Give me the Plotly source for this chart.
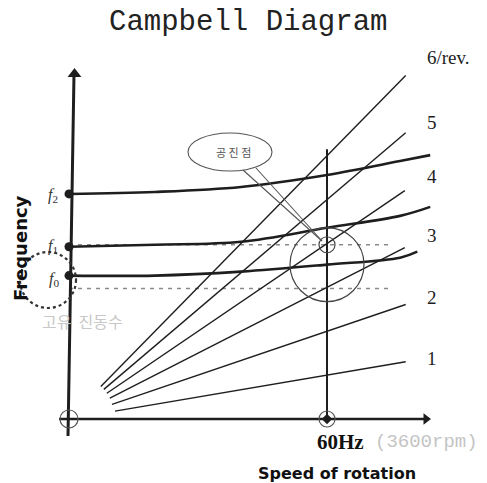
import plotly.graph_objects as go

# ---------------- data ----------------
orders = [1, 2, 3, 4, 5, 6]
order_labels = ["1", "2", "3", "4", "5", "6/rev."]
order_start_hz = [10.7, 10.0, 9.5, 8.8, 8.1, 7.4]
order_end_hz = [78.3, 78.3, 78.1, 78.1, 78.3, 78.3]

mode_speed = [0, 20, 40, 60, 77, 84]
f2_curve = [307.9, 310.6, 317.4, 333.8, 352.9, 361.0]
f1_curve = [235.7, 238.4, 242.5, 261.6, 277.9, 290.2]
f0_speed = [0, 20, 40, 60, 77, 81]
f0_curve = [196.2, 196.2, 201.6, 211.2, 220.7, 228.9]

dash_speed = [0, 75]
dash_hi = [238.4, 238.4]
dash_lo = [178.5, 178.5]

rated_speed = 60  # Hz (3600 rpm)
rated_top = 369

# ---------------- layout scale ----------------
W, H = 487, 483
X0PX, Y0PX = 69, 419
KX = (327 - X0PX) / 60.0
KY = 0.17 * KX


def pdata(xp, yp):
    return ((xp - X0PX) / KX, (Y0PX - yp) / KY)


INK = "#1e1e1e"
fig = go.Figure()

# dashed reference levels
for lev in (dash_hi, dash_lo):
    fig.add_trace(go.Scatter(x=dash_speed, y=lev, mode="lines",
                             line=dict(color="#8a8a8a", width=1.4, dash="4px,5px"),
                             hoverinfo="skip", showlegend=False))

# order lines
for n, s0, s1 in zip(orders, order_start_hz, order_end_hz):
    fig.add_trace(go.Scatter(x=[s0, s1], y=[n * s0, n * s1], mode="lines",
                             line=dict(color=INK, width=1.4),
                             hoverinfo="skip", showlegend=False))

# natural frequency curves
for xs, ys in ((mode_speed, f2_curve), (mode_speed, f1_curve), (f0_speed, f0_curve)):
    fig.add_trace(go.Scatter(x=xs, y=ys, mode="lines",
                             line=dict(color=INK, width=2.6, shape="spline"),
                             hoverinfo="skip", showlegend=False))

# 60 Hz vertical line
fig.add_trace(go.Scatter(x=[rated_speed, rated_speed], y=[0, rated_top], mode="lines",
                         line=dict(color=INK, width=2), hoverinfo="skip", showlegend=False))

# dots at the start of the curves
fig.add_trace(go.Scatter(x=[0, 0, 0], y=[f2_curve[0], f1_curve[0], f0_curve[0]],
                         mode="markers", marker=dict(color=INK, size=9),
                         hoverinfo="skip", showlegend=False))
fig.add_trace(go.Scatter(x=[rated_speed], y=[0], mode="markers",
                         marker=dict(color=INK, size=8, symbol="diamond"),
                         hoverinfo="skip", showlegend=False))

# axes (drawn)
ax_bot = pdata(68, 436)
ax_top = pdata(74, 74)
xa_l = pdata(59, 419)
xa_r = pdata(424, 419)
fig.add_trace(go.Scatter(x=[ax_bot[0], ax_top[0]], y=[ax_bot[1], ax_top[1]], mode="lines",
                         line=dict(color=INK, width=3), hoverinfo="skip", showlegend=False))
fig.add_trace(go.Scatter(x=[xa_l[0], xa_r[0]], y=[0, 0], mode="lines",
                         line=dict(color=INK, width=2.4), hoverinfo="skip", showlegend=False))
tip_up = pdata(74.5, 74)
tip_r = pdata(426, 419)
fig.add_trace(go.Scatter(x=[tip_up[0]], y=[tip_up[1]], mode="markers",
                         marker=dict(symbol="triangle-up", size=12, color=INK),
                         hoverinfo="skip", showlegend=False))
fig.add_trace(go.Scatter(x=[tip_r[0]], y=[0], mode="markers",
                         marker=dict(symbol="triangle-right", size=10, color=INK),
                         hoverinfo="skip", showlegend=False))

shapes = []


def pcircle(cx, cy, rx, ry, color, width, dash="solid"):
    shapes.append(dict(type="circle", xref="x", yref="y", xsizemode="pixel", ysizemode="pixel",
                       xanchor=cx, yanchor=cy, x0=-rx, x1=rx, y0=-ry, y1=ry,
                       line=dict(color=color, width=width, dash=dash)))


pcircle(0, 0, 9, 9, "#555", 1.2)
pcircle(rated_speed, 0, 8, 8, "#555", 1.2)
pcircle(rated_speed, f0_curve[3], 37, 37, "#444", 1.2)
pcircle(rated_speed, dash_hi[0], 8, 8, "#444", 1.2)
c = pdata(48, 280)
pcircle(c[0], c[1], 28, 28, "#333", 2.2, "dot")
e = pdata(230, 152)
pcircle(e[0], e[1], 42, 19, "#555", 1.1)
for a in ((243, 170), (256, 168)):
    p0 = pdata(*a)
    p1 = pdata(322, 241)
    shapes.append(dict(type="line", xref="x", yref="y", x0=p0[0], y0=p0[1], x1=p1[0], y1=p1[1],
                       line=dict(color="#555", width=1.1)))

ann = []


def text(xp, yp, s, size, family, color=INK, xanchor="center", angle=0):
    x, y = pdata(xp, yp)
    ann.append(dict(x=x, y=y, xref="x", yref="y", text=s, showarrow=False, xanchor=xanchor,
                    yanchor="middle", textangle=angle,
                    font=dict(size=size, family=family, color=color)))


text(248, 22, "Campbell Diagram", 29, "Courier New, Liberation Mono, monospace", "#222")
label_y = [358, 297, 235, 176, 122, 57]
for lab, ly in zip(order_labels, label_y):
    text(425, ly, lab, 19, "Liberation Serif, serif", INK, xanchor="left")
text(53, 195, "<i>f</i><sub>2</sub>", 16, "Liberation Serif, serif", "#333")
text(53, 246, "<i>f</i><sub>1</sub>", 16, "Liberation Serif, serif", "#333")
text(54, 279, "<i>f</i><sub>0</sub>", 16, "Liberation Serif, serif", "#333")
text(20, 248, "<b>Frequency</b>", 18, "DejaVu Sans, sans-serif", "#111", angle=-90)
text(337, 473, "<b>Speed of rotation</b>", 16, "DejaVu Sans, sans-serif", "#111")
text(315, 442, "<b>60Hz</b>", 21, "Liberation Serif, serif", "#111", xanchor="left")
text(373, 442, "(3600rpm)", 19, "Courier New, Liberation Mono, monospace", "#c4c4c4", xanchor="left")
text(233, 152, "공 진 점", 11, "Noto Sans CJK KR", "#555")
text(82, 321, "고유  진동수", 16, "Noto Sans CJK KR", "#c8c8c8")

fig.update_layout(
    width=W, height=H, margin=dict(l=0, r=0, t=0, b=0),
    paper_bgcolor="white", plot_bgcolor="white",
    xaxis=dict(range=[-X0PX / KX, (W - X0PX) / KX], visible=False, fixedrange=True),
    yaxis=dict(range=[(Y0PX - H) / KY, Y0PX / KY], visible=False, fixedrange=True),
    shapes=shapes, annotations=ann, showlegend=False,
)

fig.write_html("out.html")
